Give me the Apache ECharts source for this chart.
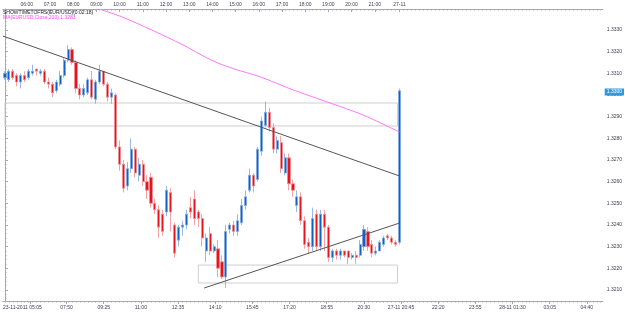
<!DOCTYPE html>
<html>
<head>
<meta charset="utf-8">
<script src="https://cdn.jsdelivr.net/npm/echarts@6/dist/echarts.min.js"></script>
<style>
    html, body { margin: 0; padding: 0; background: #fff; }
    #chart { width: 625px; height: 313px; }
</style>
</head>
<body>
<div id="chart"></div>
<script>
// slots of the time axis (candles live in the first 101)
const slotCount = 152;
const slots = Array.from({ length: slotCount }, (_, i) => i);

// EUR/USD candles
const open = [
    1.3308, 1.3307, 1.3311, 1.3309, 1.3306, 1.3309, 1.3308, 1.3310, 1.3312, 1.3310,
    1.3311, 1.3306, 1.3305, 1.3302, 1.3305, 1.3309, 1.3316, 1.3321, 1.3315, 1.3303,
    1.3300, 1.3301, 1.3307, 1.3298, 1.3306, 1.3311, 1.3305, 1.3299, 1.3300, 1.3276,
    1.3268, 1.3258, 1.3266, 1.3275, 1.3263, 1.3268, 1.3260, 1.3262, 1.3250, 1.3247,
    1.3245, 1.3246, 1.3255, 1.3240, 1.3233, 1.3239, 1.3240, 1.3248, 1.3252, 1.3246,
    1.3243, 1.3228, 1.3236, 1.3228, 1.3229, 1.3223, 1.3216, 1.3238, 1.3240, 1.3237,
    1.3241, 1.3249, 1.3256, 1.3263, 1.3261, 1.3274, 1.3286, 1.3292, 1.3285, 1.3275,
    1.3278, 1.3264, 1.3271, 1.3259, 1.3249, 1.3253, 1.3242, 1.3232, 1.3230, 1.3245,
    1.3230, 1.3245, 1.3239, 1.3225, 1.3228, 1.3226, 1.3228, 1.3228, 1.3225, 1.3226,
    1.3226, 1.3230, 1.3237, 1.3231, 1.3227, 1.3228, 1.3231, 1.3235, 1.3234, 1.3232,
    1.3232
];
const close = [
    1.3310, 1.3311, 1.3308, 1.3306, 1.3309, 1.3307, 1.3311, 1.3311, 1.3311, 1.3311,
    1.3306, 1.3305, 1.3301, 1.3306, 1.3309, 1.3316, 1.3321, 1.3315, 1.3303, 1.3300,
    1.3303, 1.3307, 1.3299, 1.3306, 1.3311, 1.3305, 1.3299, 1.3301, 1.3276, 1.3268,
    1.3257, 1.3266, 1.3275, 1.3264, 1.3268, 1.3260, 1.3256, 1.3250, 1.3247, 1.3239,
    1.3237, 1.3256, 1.3246, 1.3227, 1.3239, 1.3240, 1.3245, 1.3246, 1.3243, 1.3243,
    1.3234, 1.3234, 1.3228, 1.3230, 1.3220, 1.3216, 1.3237, 1.3240, 1.3237, 1.3242,
    1.3249, 1.3253, 1.3263, 1.3258, 1.3275, 1.3288, 1.3292, 1.3285, 1.3275, 1.3279,
    1.3266, 1.3271, 1.3259, 1.3256, 1.3253, 1.3242, 1.3231, 1.3230, 1.3243, 1.3230,
    1.3245, 1.3239, 1.3225, 1.3228, 1.3226, 1.3228, 1.3226, 1.3225, 1.3226, 1.3225,
    1.3231, 1.3238, 1.3230, 1.3227, 1.3228, 1.3232, 1.3234, 1.3234, 1.3232, 1.3231,
    1.3302
];
const low = [
    1.3307, 1.3306, 1.3307, 1.3304, 1.3303, 1.3306, 1.3307, 1.3309, 1.3309, 1.3309,
    1.3305, 1.3303, 1.3299, 1.3301, 1.3304, 1.3308, 1.3315, 1.3314, 1.3301, 1.3298,
    1.3299, 1.3300, 1.3298, 1.3296, 1.3305, 1.3304, 1.3297, 1.3296, 1.3275, 1.3265,
    1.3255, 1.3256, 1.3264, 1.3262, 1.3260, 1.3258, 1.3252, 1.3248, 1.3245, 1.3234,
    1.3235, 1.3244, 1.3237, 1.3225, 1.3230, 1.3235, 1.3238, 1.3243, 1.3240, 1.3239,
    1.3230, 1.3223, 1.3226, 1.3227, 1.3216, 1.3215, 1.3211, 1.3236, 1.3235, 1.3235,
    1.3240, 1.3247, 1.3255, 1.3255, 1.3260, 1.3272, 1.3285, 1.3283, 1.3273, 1.3273,
    1.3264, 1.3263, 1.3256, 1.3253, 1.3246, 1.3240, 1.3229, 1.3227, 1.3228, 1.3228,
    1.3228, 1.3228, 1.3223, 1.3223, 1.3224, 1.3224, 1.3225, 1.3222, 1.3224, 1.3222,
    1.3225, 1.3228, 1.3228, 1.3225, 1.3226, 1.3228, 1.3230, 1.3233, 1.3231, 1.3230,
    1.3231
];
const high = [
    1.3311, 1.3312, 1.3312, 1.3310, 1.3310, 1.3311, 1.3312, 1.3314, 1.3312, 1.3312,
    1.3312, 1.3308, 1.3306, 1.3307, 1.3311, 1.3317, 1.3323, 1.3322, 1.3316, 1.3305,
    1.3305, 1.3308, 1.3311, 1.3307, 1.3314, 1.3311, 1.3306, 1.3303, 1.3301, 1.3279,
    1.3270, 1.3269, 1.3280, 1.3276, 1.3271, 1.3270, 1.3263, 1.3264, 1.3252, 1.3249,
    1.3247, 1.3258, 1.3257, 1.3241, 1.3240, 1.3242, 1.3247, 1.3253, 1.3256, 1.3247,
    1.3245, 1.3236, 1.3239, 1.3231, 1.3233, 1.3226, 1.3240, 1.3241, 1.3242, 1.3245,
    1.3252, 1.3256, 1.3266, 1.3264, 1.3276, 1.3290, 1.3297, 1.3294, 1.3287, 1.3281,
    1.3281, 1.3273, 1.3273, 1.3261, 1.3256, 1.3255, 1.3244, 1.3234, 1.3248, 1.3247,
    1.3247, 1.3247, 1.3240, 1.3229, 1.3229, 1.3229, 1.3228, 1.3228, 1.3227, 1.3228,
    1.3233, 1.3240, 1.3239, 1.3233, 1.3230, 1.3233, 1.3235, 1.3236, 1.3235, 1.3233,
    1.3303
];

// drawn objects: [slot, price]
const resistLine = [[-0.5, 1.33272], [100, 1.32626]];
const supportLine = [[50.5, 1.32109], [100, 1.32409]];
const maLine = [
    [23.9, 1.33397], [29.7, 1.33360], [37.2, 1.33300], [44.7, 1.33235], [52.3, 1.33161],
    [57.3, 1.33125], [64.8, 1.33083], [73.1, 1.33023], [82.4, 1.32963], [90.7, 1.32908],
    [100, 1.32829]
];
// boxes: [slotFrom, slotTo, priceTop, priceBottom]
const zones = [
    [0, 99.5, 1.32963, 1.32857],
    [49, 99.5, 1.32215, 1.32132]
];

// tick labels
const priceTicks = [1.3210, 1.3220, 1.3230, 1.3240, 1.3250, 1.3260, 1.3270, 1.3280, 1.3290, 1.3300, 1.3310, 1.3320, 1.3330];
const topLabels = ['06:00', '07:00', '08:00', '09:00', '10:00', '11:00', '12:00', '13:00', '14:00', '15:00', '16:00', '17:00', '18:00', '19:00', '20:00', '21:00', '27-11'];
const bottomLabels = ['23-11-2011 05:05', '07:50', '09:25', '11:00', '12:35', '14:10', '15:45', '17:20', '18:55', '20:30', '27-11 20:45', '22:20', '23:55', '28-11 01:30', '03:05', '04:40'];

const blue = '#1060c8';
const red = '#e8141c';
const axisColor = '#a8a8a8';
const textColor = '#40405a';
const font = 'Liberation Sans, Arial, sans-serif';

// where the labels sit on the slot axis
const topPos = topLabels.map((_, i) => (i < 16 ? 5.53 + i * 5.88 : 100));
const bottomPos = bottomLabels.map((_, i) => (i === 0 ? -0.5 : 15.6 + (i - 1) * 9.42));
const bottomTicks = [6.5].concat(bottomPos.slice(1));
const minorSlots = slots.map((s) => s);
const minorPrices = [];
for (let p = 13206; p <= 13338; p += 2) minorPrices.push(p / 10000);

const labelAt = (pos, labels) => (v) => {
    const i = pos.findIndex((p) => Math.abs(p - v) < 1e-6);
    return i >= 0 ? labels[i] : '';
};

const slotAxis = {
    type: 'value',
    min: -0.5,
    max: slotCount - 0.5,
    splitLine: { show: false },
    axisLine: { show: true, lineStyle: { color: axisColor, width: 1 } }
};

const chart = echarts.init(document.getElementById('chart'), null, { renderer: 'canvas' });

chart.setOption({
    animation: false,
    backgroundColor: '#fff',
    title: [
        {
            text: 'SHOWTIMETOFRS(EUR/USD)(0:02:18)',
            left: 3,
            top: 10,
            padding: 0,
            textStyle: { fontSize: 5, fontWeight: 'normal', color: '#1a1a2a', fontFamily: font }
        },
        {
            text: 'MA(EURUSD,Close,200) 1.3283',
            left: 3,
            top: 15,
            padding: 0,
            textStyle: { fontSize: 5, fontWeight: 'normal', color: '#ff44ff', fontFamily: font }
        }
    ],
    grid: { left: 0, right: 20, top: 9, bottom: 12 },
    xAxis: [
        // candles
        { type: 'category', data: slots, boundaryGap: true, show: false },
        // bottom labels
        Object.assign({}, slotAxis, {
            position: 'bottom',
            axisTick: { show: true, customValues: bottomTicks, length: 3, lineStyle: { color: axisColor } },
            axisLabel: {
                customValues: bottomPos,
                formatter: labelAt(bottomPos, bottomLabels),
                alignMinLabel: 'left',
                fontSize: 5,
                margin: 4,
                color: textColor,
                fontFamily: font
            }
        }),
        // bottom small ticks
        Object.assign({}, slotAxis, {
            position: 'bottom',
            axisTick: { show: true, customValues: minorSlots, length: 1.5, lineStyle: { color: axisColor } },
            axisLabel: { show: false }
        }),
        // top hour labels
        Object.assign({}, slotAxis, {
            position: 'top',
            axisTick: { show: true, inside: true, customValues: topPos, length: 3, lineStyle: { color: axisColor } },
            axisLabel: {
                customValues: topPos,
                formatter: labelAt(topPos, topLabels),
                fontSize: 5,
                margin: 2,
                color: textColor,
                fontFamily: font
            }
        }),
        // top small ticks
        Object.assign({}, slotAxis, {
            position: 'top',
            axisTick: { show: true, inside: true, customValues: minorSlots, length: 1.5, lineStyle: { color: axisColor } },
            axisLabel: { show: false }
        })
    ],
    yAxis: [
        {
            type: 'value',
            position: 'right',
            min: 1.32049,
            max: 1.33397,
            splitLine: { show: false },
            axisLine: { show: true, lineStyle: { color: axisColor } },
            axisTick: { show: true, customValues: priceTicks, length: 3, lineStyle: { color: axisColor } },
            axisLabel: {
                customValues: priceTicks,
                formatter: (v) => v.toFixed(4),
                fontSize: 5,
                margin: 4,
                color: textColor,
                fontFamily: font
            }
        },
        {
            type: 'value',
            position: 'right',
            min: 1.32049,
            max: 1.33397,
            splitLine: { show: false },
            axisLine: { show: false },
            axisTick: { show: true, customValues: minorPrices, length: 1.5, lineStyle: { color: axisColor } },
            axisLabel: { show: false }
        }
    ],
    series: [
        {
            name: 'zones',
            type: 'line',
            xAxisIndex: 1,
            yAxisIndex: 0,
            data: [],
            silent: true,
            markArea: {
                silent: true,
                itemStyle: { color: 'rgba(0,0,0,0)', borderColor: '#cfcfcf', borderWidth: 1 },
                data: zones.map((z) => [{ coord: [z[0], z[2]] }, { coord: [z[1], z[3]] }])
            }
        },
        {
            name: 'EURUSD',
            type: 'candlestick',
            xAxisIndex: 0,
            yAxisIndex: 0,
            barWidth: 2.6,
            data: open.map((o, i) => [o, close[i], low[i], high[i]]),
            itemStyle: {
                color: blue,
                color0: red,
                borderColor: '#7fa8e2',
                borderColor0: '#f08b91',
                borderWidth: 0.8
            },
            markLine: {
                silent: true,
                symbol: 'none',
                lineStyle: { color: 'rgba(0,0,0,0)', width: 1 },
                label: {
                    show: true,
                    position: 'end',
                    distance: 2,
                    offset: [0, -3],
                    formatter: (p) => p.value.toFixed(4),
                    fontSize: 5,
                    color: '#fff',
                    backgroundColor: '#2f9ae0',
                    padding: [1, 2],
                    fontFamily: font
                },
                data: [{ yAxis: close[close.length - 1] }]
            }
        },
        {
            name: 'MA 200',
            type: 'line',
            xAxisIndex: 1,
            yAxisIndex: 0,
            data: maLine,
            smooth: 0.3,
            symbol: 'none',
            lineStyle: { color: '#ff77ff', width: 1 }
        },
        {
            name: 'resistance',
            type: 'line',
            xAxisIndex: 1,
            yAxisIndex: 0,
            data: resistLine,
            symbol: 'none',
            lineStyle: { color: '#555', width: 1 }
        },
        {
            name: 'support',
            type: 'line',
            xAxisIndex: 1,
            yAxisIndex: 0,
            data: supportLine,
            symbol: 'none',
            lineStyle: { color: '#555', width: 1 }
        }
    ]
});

window.addEventListener('resize', () => chart.resize());
</script>
</body>
</html>
